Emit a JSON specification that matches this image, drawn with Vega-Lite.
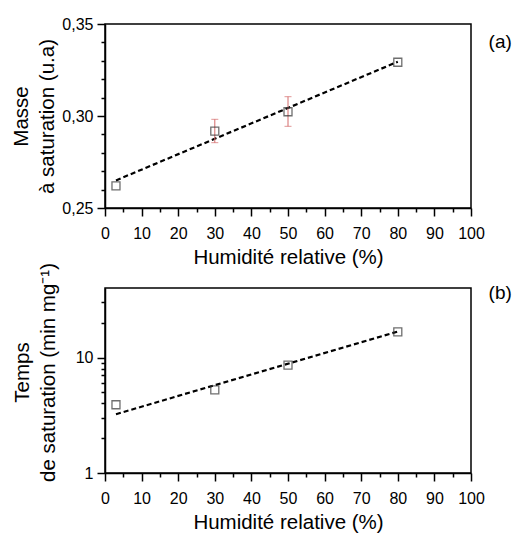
{
  "$schema": "https://vega.github.io/schema/vega-lite/v6.json",
  "padding": {"left": 10, "top": 15, "right": 5, "bottom": 5},
  "background": "white",
  "config": {
    "font": "Liberation Sans",
    "view": {"stroke": "black", "strokeWidth": 1.5},
    "axis": {
      "grid": false,
      "domainColor": "black",
      "domainWidth": 1.5,
      "tickColor": "black",
      "tickWidth": 1.5,
      "labelColor": "black",
      "titleColor": "black",
      "labelFont": "Liberation Sans",
      "titleFont": "Liberation Sans",
      "labelFontSize": 16,
      "titleFontSize": 20.5,
      "titleFontWeight": "normal",
      "labelPadding": 4,
      "labelOverlap": false,
      "labelFlush": false
    },
    "title": {"font": "Liberation Sans", "fontSize": 19, "fontWeight": "normal", "color": "black"}
  },
  "datasets": {
    "masse": [
      {"humidite": 3, "masse": 0.262, "groupe": "noir"},
      {"humidite": 30, "masse": 0.2918, "groupe": "noir"},
      {"humidite": 50, "masse": 0.3023, "groupe": "noir"},
      {"humidite": 80, "masse": 0.3292, "groupe": "noir"}
    ],
    "masse_err": [
      {"humidite": 30, "masse": 0.2855, "haut": 0.2982},
      {"humidite": 50, "masse": 0.2944, "haut": 0.3105}
    ],
    "masse_fit": [
      {"humidite": 3, "masse": 0.265},
      {"humidite": 80, "masse": 0.3295}
    ],
    "temps": [
      {"humidite": 3, "temps": 3.9, "groupe": "gris"},
      {"humidite": 30, "temps": 5.25, "groupe": "rouge"},
      {"humidite": 50, "temps": 8.6, "groupe": "rouge"},
      {"humidite": 80, "temps": 16.7, "groupe": "gris"}
    ],
    "temps_fit": [
      {"humidite": 3, "temps": 3.23},
      {"humidite": 80, "temps": 16.8}
    ]
  },
  "vconcat": [
    {
      "width": 366,
      "height": 184,
      "title": {"text": "(a)", "orient": "right", "anchor": "start", "angle": 0, "offset": -19, "dy": 17, "fontSize": 19},
      "encoding": {
        "x": {
          "field": "humidite", "type": "quantitative",
          "scale": {"domain": [0, 100], "nice": false, "zero": false},
          "axis": {
            "title": "Humidité relative (%)",
            "values": [0,5,10,15,20,25,30,35,40,45,50,55,60,65,70,75,80,85,90,95,100],
            "labelExpr": "datum.value % 10 === 0 ? format(datum.value, 'd') : ''",
            "tickSize": {"condition": {"test": "datum.value % 10 === 0", "value": 8}, "value": 4},
            "labelPadding": 9,
            "titlePadding": 6
          }
        },
        "y": {
          "field": "masse", "type": "quantitative",
          "scale": {"domain": [0.25, 0.35], "nice": false, "zero": false},
          "axis": {
            "title": ["Masse", "à saturation (u.a)"],
            "titleLineHeight": 26,
            "titleX": -74,
            "titleY": 92,
            "values": [0.25,0.26,0.27,0.28,0.29,0.30,0.31,0.32,0.33,0.34,0.35],
            "labelExpr": "round(datum.value * 100) % 5 === 0 ? replace(format(datum.value, '.2f'), '.', ',') : ''",
            "tickSize": {"condition": {"test": "round(datum.value * 100) % 5 === 0", "value": 8}, "value": 4}
          }
        }
      },
      "layer": [
        {
          "data": {"name": "masse_fit"},
          "mark": {"type": "line", "color": "black", "strokeWidth": 2.2, "strokeDash": [5, 3]}
        },
        {
          "data": {"name": "masse_err"},
          "mark": {"type": "errorbar", "color": "#d46a6a", "ticks": {"size": 7, "color": "#d46a6a"}},
          "encoding": {
            "y2": {"field": "haut"}
          }
        },
        {
          "data": {"name": "masse"},
          "mark": {"type": "point", "shape": "square", "filled": false, "size": 64, "strokeWidth": 1.3},
          "encoding": {
            "color": {
              "field": "groupe", "type": "nominal",
              "scale": {"domain": ["noir"], "range": ["#333333"]},
              "legend": null
            }
          }
        }
      ]
    },
    {
      "width": 366,
      "height": 185,
      "title": {"text": "(b)", "orient": "right", "anchor": "start", "angle": 0, "offset": -19, "dy": 21, "fontSize": 19},
      "encoding": {
        "x": {
          "field": "humidite", "type": "quantitative",
          "scale": {"domain": [0, 100], "nice": false, "zero": false},
          "axis": {
            "title": "Humidité relative (%)",
            "values": [0,5,10,15,20,25,30,35,40,45,50,55,60,65,70,75,80,85,90,95,100],
            "labelExpr": "datum.value % 10 === 0 ? format(datum.value, 'd') : ''",
            "tickSize": {"condition": {"test": "datum.value % 10 === 0", "value": 8}, "value": 4},
            "labelPadding": 9,
            "titlePadding": 6
          }
        },
        "y": {
          "field": "temps", "type": "quantitative",
          "scale": {"type": "log", "domain": [1, 40], "nice": false},
          "axis": {
            "title": ["Temps", "de saturation (min mg⁻¹)"],
            "titleLineHeight": 26,
            "titleX": -73,
            "titleY": 84,
            "values": [1,2,3,4,5,6,7,8,9,10,20,30],
            "labelExpr": "datum.value === 1 || datum.value === 10 ? format(datum.value, 'd') : ''",
            "tickSize": {"condition": {"test": "datum.value === 1 || datum.value === 10", "value": 8}, "value": 4}
          }
        }
      },
      "layer": [
        {
          "data": {"name": "temps_fit"},
          "mark": {"type": "line", "color": "black", "strokeWidth": 2.2, "strokeDash": [5, 3]}
        },
        {
          "data": {"name": "temps"},
          "mark": {"type": "point", "shape": "square", "filled": false, "size": 64, "strokeWidth": 1.3},
          "encoding": {
            "color": {
              "field": "groupe", "type": "nominal",
              "scale": {"domain": ["gris", "rouge"], "range": ["#666666", "#c0392b"]},
              "legend": null
            }
          }
        }
      ]
    }
  ],
  "spacing": 80,
  "bounds": "flush"
}
